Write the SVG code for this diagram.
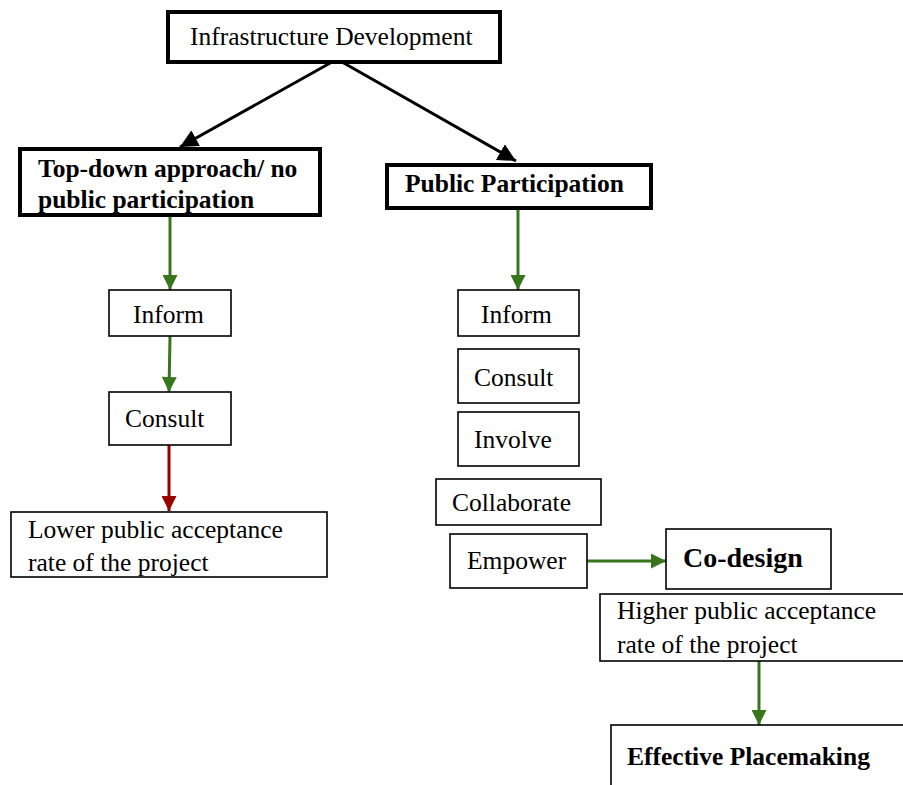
<svg xmlns="http://www.w3.org/2000/svg" width="903" height="785" viewBox="0 0 903 785">
<style>
  .t { font-family: "Liberation Serif", "Times New Roman", serif; font-size: 25.5px; fill: #000; }
  .b { font-weight: bold; }
  .thick { fill: #fff; stroke: #000; stroke-width: 4; }
  .thin { fill: #fff; stroke: #000; stroke-width: 1.6; }
  .cb { stroke: #000; stroke-width: 3; fill: none; }
  .cg { stroke: #38761d; stroke-width: 3; fill: none; }
  .cr { stroke: #990000; stroke-width: 3; fill: none; }
</style>
<defs>
  <marker id="ab" viewBox="0 0 10 10" refX="10" refY="5" markerWidth="6" markerHeight="6" orient="auto" markerUnits="strokeWidth"><path d="M0,0 L10,5 L0,10 z" fill="#000"/></marker>
  <marker id="ag" viewBox="0 0 10 10" refX="10" refY="5" markerWidth="6" markerHeight="5" orient="auto" markerUnits="strokeWidth"><path d="M0,0 L10,5 L0,10 z" fill="#38761d"/></marker>
  <marker id="ar" viewBox="0 0 10 10" refX="10" refY="5" markerWidth="6" markerHeight="5" orient="auto" markerUnits="strokeWidth"><path d="M0,0 L10,5 L0,10 z" fill="#990000"/></marker>
</defs>
<rect width="903" height="785" fill="#fff"/>
<g id="connectors">
  <line class="cb" x1="332" y1="62" x2="180" y2="147" marker-end="url(#ab)"/>
  <line class="cb" x1="342" y1="62" x2="516" y2="161" marker-end="url(#ab)"/>
  <line class="cg" x1="170" y1="217" x2="170" y2="290" marker-end="url(#ag)"/>
  <line class="cg" x1="170" y1="336" x2="169" y2="392" marker-end="url(#ag)"/>
  <line class="cr" x1="169" y1="445" x2="169" y2="511" marker-end="url(#ar)"/>
  <line class="cg" x1="518" y1="210" x2="518" y2="290" marker-end="url(#ag)"/>
  <line class="cg" x1="587" y1="561" x2="666" y2="561" marker-end="url(#ag)"/>
  <line class="cg" x1="759" y1="661" x2="759" y2="725" marker-end="url(#ag)"/>
</g>
<g id="infrastructure">
  <rect class="thick" x="168" y="12" width="332" height="50"/>
  <text class="t" x="190" y="45">Infrastructure Development</text>
</g>
<g id="topdown">
  <rect class="thick" x="20" y="149" width="300" height="66"/>
  <text class="t b" x="38" y="177">Top-down approach/ no</text>
  <text class="t b" x="38" y="208">public participation</text>
</g>
<g id="public">
  <rect class="thick" x="387" y="165" width="264" height="43"/>
  <text class="t b" x="405" y="192">Public Participation</text>
</g>
<g id="inform-left">
  <rect class="thin" x="109" y="290" width="122" height="46"/>
  <text class="t" x="133" y="323">Inform</text>
</g>
<g id="consult-left">
  <rect class="thin" x="109" y="392" width="122" height="53"/>
  <text class="t" x="125" y="427">Consult</text>
</g>
<g id="lower">
  <rect class="thin" x="11" y="512" width="316" height="65"/>
  <text class="t" x="28" y="538">Lower public acceptance</text>
  <text class="t" x="28" y="571">rate of the project</text>
</g>
<g id="inform-right">
  <rect class="thin" x="458" y="290" width="121" height="46"/>
  <text class="t" x="481" y="323">Inform</text>
</g>
<g id="consult-right">
  <rect class="thin" x="458" y="349" width="121" height="54"/>
  <text class="t" x="474" y="386">Consult</text>
</g>
<g id="involve">
  <rect class="thin" x="458" y="412" width="121" height="54"/>
  <text class="t" x="474" y="448">Involve</text>
</g>
<g id="collaborate">
  <rect class="thin" x="436" y="479" width="165" height="46"/>
  <text class="t" x="452" y="511">Collaborate</text>
</g>
<g id="empower">
  <rect class="thin" x="450" y="534" width="137" height="54"/>
  <text class="t" x="467" y="569">Empower</text>
</g>
<g id="codesign">
  <rect class="thin" x="666" y="529" width="165" height="60"/>
  <text class="t b" x="683" y="567" style="font-size:28px">Co-design</text>
</g>
<g id="higher">
  <rect class="thin" x="600" y="594" width="310" height="67"/>
  <text class="t" x="617" y="619">Higher public acceptance</text>
  <text class="t" x="617" y="653">rate of the project</text>
</g>
<g id="effective">
  <rect class="thin" x="611" y="725" width="300" height="70"/>
  <text class="t b" x="627" y="765">Effective Placemaking</text>
</g>
</svg>
